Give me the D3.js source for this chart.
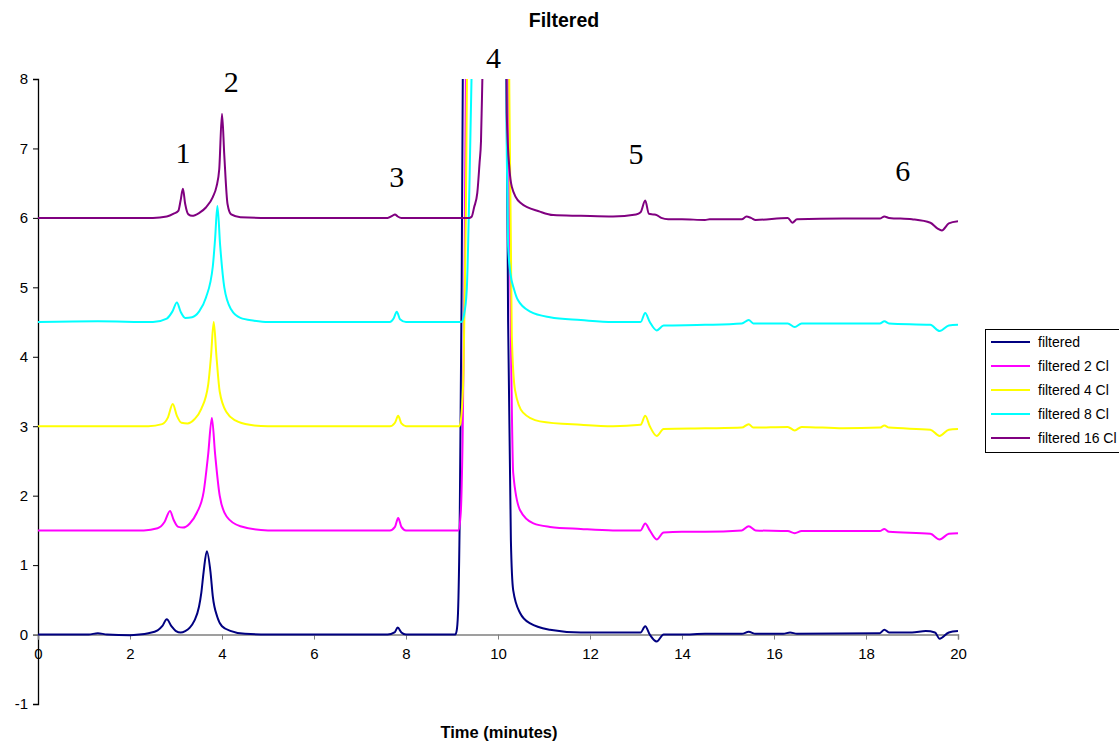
<!DOCTYPE html>
<html><head><meta charset="utf-8">
<script src="https://cdn.jsdelivr.net/npm/d3@7"></script>
<style>body{margin:0;background:#fff}svg{display:block;font-family:Arial,"Liberation Sans",sans-serif}</style>
</head><body>
<svg id="c" width="1119" height="742"></svg>
<script>
const seriesNames = ["filtered","filtered 2 Cl","filtered 4 Cl","filtered 8 Cl","filtered 16 Cl"];
const seriesColors = ["#000080","#FF00FF","#FFFF00","#00FFFF","#800080"];
const xTicks = [0,2,4,6,8,10,12,14,16,18,20];
const yTicks = [-1,0,1,2,3,4,5,6,7,8];
const peakLabels = ["1","2","3","4","5","6"];
const peakLabelT = [3.15,4.2,7.8,9.9,13.0,18.8];
const peakLabelV = [6.79,7.82,6.44,8.16,6.78,6.53];

const t0 = [0,1.1,1.3,1.5,2.0,2.2,2.4,2.6,2.7,2.8,2.9,3.0,3.1,3.2,3.3,3.4,3.5,3.55,3.6,3.67,3.75,3.8,3.9,4.0,4.2,4.5,5,7.6,7.75,7.82,7.9,8.0,9.0,9.07,9.1,9.13,9.17,9.21,9.25,9.4,10.0,10.15,10.22,10.28,10.33,10.48,10.7,11.13,11.8,13.0,13.1,13.2,13.3,13.45,13.6,14.0,14.5,15.3,15.45,15.6,16.2,16.35,16.5,18.3,18.4,18.5,19.0,19.3,19.5,19.6,19.8,20];
const v0 = [0,0,0.02,0,-0.01,0,0.02,0.06,0.12,0.22,0.12,0.05,0.03,0.05,0.1,0.2,0.4,0.6,0.9,1.2,0.9,0.55,0.25,0.12,0.05,0.01,0,0,0.03,0.1,0.03,0,0,0,0.05,0.3,1.8,5,10,25,25,12,4.5,1.36,0.64,0.31,0.16,0.07,0.03,0.03,0.03,0.12,0.0,-0.1,0,0,0.01,0.01,0.04,0.01,0.01,0.03,0.01,0.02,0.07,0.03,0.03,0.05,0.03,-0.06,0.03,0.05];

const t1 = [0,2.3,2.6,2.75,2.87,2.95,3.05,3.15,3.3,3.45,3.6,3.7,3.78,3.85,3.95,4.1,4.4,5,7.65,7.76,7.83,7.9,8.0,9.1,9.14,9.19,9.23,9.27,9.32,9.5,10.0,10.2,10.28,10.33,10.48,10.77,11.13,11.8,12.5,13.1,13.2,13.3,13.45,13.6,14.0,14.5,15.3,15.45,15.6,16.3,16.45,16.6,18.3,18.4,18.5,19.4,19.6,19.8,20];
const v1 = [1.5,1.5,1.53,1.62,1.78,1.65,1.55,1.54,1.6,1.75,2.05,2.6,3.12,2.6,2.0,1.7,1.56,1.5,1.5,1.55,1.68,1.55,1.5,1.5,1.5,1.75,2.8,5,10,25,25,10,4.3,2.33,1.79,1.6,1.55,1.52,1.5,1.5,1.6,1.5,1.37,1.47,1.48,1.48,1.5,1.56,1.5,1.49,1.46,1.49,1.49,1.52,1.48,1.45,1.37,1.45,1.46];

const t2 = [0,2.4,2.7,2.82,2.93,3.02,3.12,3.25,3.4,3.55,3.7,3.76,3.82,3.88,3.95,4.1,4.3,4.6,5,7.65,7.76,7.83,7.9,8.0,9.15,9.18,9.2,9.25,9.3,9.35,9.5,10.0,10.22,10.3,10.37,10.54,10.91,11.8,12.5,13.1,13.2,13.3,13.45,13.6,14.5,15.3,15.45,15.55,16.3,16.45,16.6,17.5,18.3,18.4,18.5,19.4,19.6,19.8,20];
const v2 = [3,3,3.03,3.12,3.32,3.15,3.05,3.04,3.1,3.25,3.6,4.0,4.5,4.0,3.5,3.2,3.08,3.02,3.0,3.0,3.05,3.15,3.04,3.0,3.0,3.03,3.13,3.77,6,10,25,25,10,4.3,3.52,3.2,3.07,3.02,3.0,3.02,3.15,3.0,2.86,2.96,2.97,2.98,3.03,2.98,2.99,2.94,2.99,2.97,2.98,3.01,2.98,2.95,2.86,2.95,2.96];

const t3 = [0,1.3,2.5,2.8,2.92,3.02,3.1,3.2,3.35,3.5,3.65,3.8,3.85,3.9,3.96,4.05,4.2,4.4,4.7,5,7.65,7.73,7.8,7.87,8,9.2,9.26,9.32,9.38,9.43,9.5,9.7,10.0,10.15,10.19,10.22,10.27,10.35,10.43,10.7,11.13,11.8,12.5,13.1,13.2,13.3,13.45,13.6,14.5,15.3,15.45,15.55,16.3,16.45,16.6,17.5,18.3,18.4,18.5,19.4,19.6,19.8,20];
const v3 = [4.5,4.51,4.5,4.55,4.65,4.78,4.65,4.56,4.57,4.65,4.85,5.3,5.7,6.17,5.6,5.0,4.68,4.56,4.52,4.5,4.5,4.55,4.65,4.54,4.5,4.5,4.6,4.95,6.5,8.2,12,25,25,10,7,5.6,5.2,4.97,4.82,4.65,4.57,4.53,4.5,4.5,4.63,4.5,4.38,4.45,4.46,4.48,4.53,4.48,4.48,4.43,4.48,4.48,4.48,4.51,4.48,4.46,4.37,4.45,4.46];

const t4 = [0,2.5,2.8,2.95,3.05,3.1,3.15,3.2,3.27,3.35,3.5,3.65,3.8,3.88,3.94,4.0,4.05,4.12,4.2,4.4,5,7.6,7.7,7.76,7.82,7.9,9.38,9.43,9.48,9.55,9.6,9.63,9.66,9.72,9.9,10.0,10.12,10.19,10.25,10.3,10.48,10.91,11.2,11.8,12.5,13.0,13.1,13.2,13.28,13.38,13.45,13.55,13.7,14.0,14.5,14.6,15.3,15.4,15.5,15.6,16.3,16.4,16.5,17.5,18.3,18.4,18.5,19.0,19.4,19.55,19.65,19.8,20];
const v4 = [6,6,6.02,6.06,6.1,6.25,6.42,6.2,6.05,6.03,6.07,6.15,6.3,6.45,6.7,7.5,6.9,6.2,6.05,6.01,6.0,6.0,6.03,6.05,6.02,6.0,6.0,6.02,6.15,6.36,6.8,7.1,8,10,25,25,12,7.5,6.7,6.45,6.22,6.09,6.04,6.03,6.02,6.05,6.08,6.25,6.06,6.05,6.04,6.0,5.98,5.98,5.97,5.98,5.98,6.02,6.0,5.97,6.0,5.93,5.98,5.99,5.99,6.02,6.0,5.98,5.93,5.85,5.82,5.92,5.95];

const times = [t0,t1,t2,t3,t4];
const values = [v0,v1,v2,v3,v4];

const svg = d3.select("#c");
const x = d3.scaleLinear().domain([0,20]).range([38,958]);
const y = d3.scaleLinear().domain([-1,8]).range([704,79]);

svg.append("defs").append("clipPath").attr("id","clip")
  .append("rect").attr("x",38).attr("y",79).attr("width",920).attr("height",625);

// title
svg.append("text").attr("x",564).attr("y",27).attr("text-anchor","middle")
  .attr("font-size",19.5).attr("font-weight","bold").text("Filtered");
svg.append("text").attr("x",499).attr("y",738).attr("text-anchor","middle")
  .attr("font-size",16.5).attr("font-weight","bold").text("Time (minutes)");

// y axis
const yAx = svg.append("g").attr("transform","translate(38,0)")
  .call(d3.axisLeft(y).tickValues(yTicks).tickSize(5).tickPadding(5).tickFormat(d => String(d)));
yAx.select(".domain").attr("stroke","#000").attr("stroke-width",1.3);
yAx.selectAll("line").attr("stroke","#000");
yAx.selectAll("text").attr("font-size",15).attr("font-family","Arial,'Liberation Sans',sans-serif");

// x axis at y=0
const xAx = svg.append("g").attr("transform",`translate(0,${y(0)})`)
  .call(d3.axisBottom(x).tickValues(xTicks).tickSize(5).tickPadding(9).tickFormat(d => String(d)));
xAx.select(".domain").attr("stroke","#808080").attr("stroke-width",1.5);
xAx.selectAll("line").attr("stroke","#808080");
xAx.selectAll("text").attr("font-size",15).attr("font-family","Arial,'Liberation Sans',sans-serif");

// lines
const line = d3.line().x(d=>x(d[0])).y(d=>y(d[1])).curve(d3.curveMonotoneX);
const plot = svg.append("g").attr("clip-path","url(#clip)");
times.forEach((ts,i)=>{
  const pts = ts.map((t,j)=>[t,values[i][j]]);
  plot.append("path").datum(pts).attr("d",line).attr("fill","none")
    .attr("stroke",seriesColors[i]).attr("stroke-width",2).attr("stroke-linejoin","round");
});

// peak labels
peakLabels.forEach((l,i)=>{
  svg.append("text").attr("x",x(peakLabelT[i])).attr("y",y(peakLabelV[i]))
    .attr("text-anchor","middle").attr("font-family","'Liberation Serif','Times New Roman',serif")
    .attr("font-size",30).text(l);
});

// legend
const lg = svg.append("g");
lg.append("rect").attr("x",985.5).attr("y",329.5).attr("width",140).attr("height",123)
  .attr("fill","#fff").attr("stroke","#000").attr("stroke-width",1);
seriesNames.forEach((n,i)=>{
  const yy = 342 + i*24;
  lg.append("line").attr("x1",991).attr("x2",1030).attr("y1",yy).attr("y2",yy)
    .attr("stroke",seriesColors[i]).attr("stroke-width",2);
  lg.append("text").attr("x",1038).attr("y",yy+5).attr("font-size",14).text(n);
});
</script>
</body></html>
